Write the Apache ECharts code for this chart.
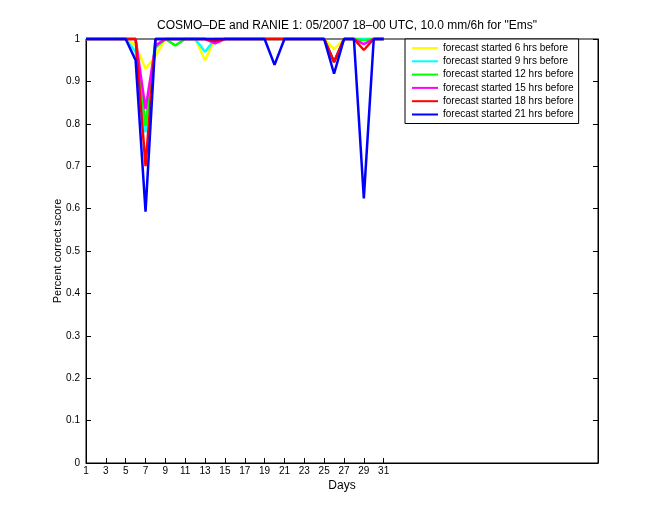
<!DOCTYPE html>
<html>
<head>
<meta charset="utf-8">
<script src="https://cdn.jsdelivr.net/npm/echarts@6/dist/echarts.min.js"></script>
<style>html,body{margin:0;padding:0;background:#fff}#c{width:660px;height:520px}</style>
</head>
<body>
<div id="c"></div>
<script>
// Days 1..31
const days = [1,2,3,4,5,6,7,8,9,10,11,12,13,14,15,16,17,18,19,20,21,22,23,24,25,26,27,28,29,30,31];
const xTicks = [1,3,5,7,9,11,13,15,17,19,21,23,25,27,29,31];
const seriesNames = [
  'forecast started 6 hrs before',
  'forecast started 9 hrs before',
  'forecast started 12 hrs before',
  'forecast started 15 hrs before',
  'forecast started 18 hrs before',
  'forecast started 21 hrs before'
];
//            1 2 3 4 5  6     7     8     9  10    11 12 13    14    15 16 17 18 19 20    21 22 23 24 25 26    27 28 29    30 31
const h6  = [1,1,1,1,1,0.985,0.93, 0.96, 1, 1,    1, 1, 0.95, 1,    1, 1, 1, 1, 1, 1,    1, 1, 1, 1, 1, 0.976,1, 1, 1,    1, 1];
const h9  = [1,1,1,1,1,0.97, 0.78, 1,    1, 1,    1, 1, 0.97, 1,    1, 1, 1, 1, 1, 1,    1, 1, 1, 1, 1, 0.946,1, 1, 1,    1, 1];
const h12 = [1,1,1,1,1,1,    0.795,0.98, 1, 0.985,1, 1, 1,    1,    1, 1, 1, 1, 1, 1,    1, 1, 1, 1, 1, 0.946,1, 1, 0.997,1, 1];
const h15 = [1,1,1,1,1,1,    0.835,0.985,1, 1,    1, 1, 1,    0.99, 1, 1, 1, 1, 1, 1,    1, 1, 1, 1, 1, 0.946,1, 1, 0.988,1, 1];
const h18 = [1,1,1,1,1,1,    0.70, 1,    1, 1,    1, 1, 1,    0.995,1, 1, 1, 1, 1, 1,    1, 1, 1, 1, 1, 0.946,1, 1, 0.974,1, 1];
const h21 = [1,1,1,1,1,0.95, 0.593,1,    1, 1,    1, 1, 1,    1,    1, 1, 1, 1, 1, 0.939,1, 1, 1, 1, 1, 0.918,1, 1, 0.624,1, 1];
const allValues = [h6, h9, h12, h15, h18, h21];
const colors = ['#ffff00', '#00ffff', '#00ff00', '#ff00ff', '#ff0000', '#0000ff'];

const font = 'Liberation Sans, Arial, Helvetica, sans-serif';
const chart = echarts.init(document.getElementById('c'), null, {renderer: 'canvas'});
const series = allValues.map((vals, i) => ({
  name: seriesNames[i],
  type: 'line',
  data: days.map((d, k) => [d, vals[k]]),
  showSymbol: false,
  symbol: 'none',
  clip: false,
  lineStyle: {color: colors[i], width: 2.5},
  itemStyle: {color: colors[i]}
}));

chart.setOption({
  animation: false,
  backgroundColor: '#fff',
  title: {
    text: 'COSMO\u2013DE and RANIE 1: 05/2007 18\u201300 UTC, 10.0 mm/6h for "Ems"',
    left: 342, textAlign: 'center', top: 15,
    textStyle: {fontFamily: font, fontSize: 12, fontWeight: 'normal', color: '#000'}
  },
  grid: {left: 86, top: 39, width: 512, height: 424, show: true, borderColor: '#000', borderWidth: 1, backgroundColor: '#fff'},
  legend: {
    left: 405, top: 39, orient: 'vertical',
    data: seriesNames,
    icon: 'rect', itemWidth: 26, itemHeight: 2, itemGap: 1.3,
    padding: [3, 5, 3, 7],
    borderColor: '#000', borderWidth: 1, backgroundColor: '#fff',
    textStyle: {fontFamily: font, fontSize: 10, color: '#000', lineHeight: 12}
  },
  xAxis: {
    type: 'value', min: 1, max: 52.6,
    name: 'Days', nameLocation: 'middle', nameGap: 17, nameMoveOverlap: false,
    nameTextStyle: {fontFamily: font, fontSize: 12, color: '#000'},
    axisLine: {show: true, lineStyle: {color: '#000', width: 1}},
    axisTick: {show: true, inside: true, length: 5, customValues: xTicks, lineStyle: {color: '#000'}},
    axisLabel: {customValues: xTicks, fontFamily: font, fontSize: 10, color: '#000', margin: 3},
    splitLine: {show: false}
  },
  yAxis: [{
    type: 'value', min: 0, max: 1, interval: 0.1, position: 'left',
    name: 'Percent correct score', nameLocation: 'middle', nameGap: 23, nameMoveOverlap: false,
    nameTextStyle: {fontFamily: font, fontSize: 11, color: '#000'},
    axisLine: {show: true, lineStyle: {color: '#000', width: 1}},
    axisTick: {show: true, inside: true, length: 5, lineStyle: {color: '#000'}},
    axisLabel: {fontFamily: font, fontSize: 10, color: '#000', margin: 6,
      formatter: v => (Math.round(v * 10) / 10).toString()},
    splitLine: {show: false}
  }, {
    type: 'value', min: 0, max: 1, interval: 0.1, position: 'right',
    axisLine: {show: true, lineStyle: {color: '#000', width: 1}},
    axisTick: {show: true, inside: true, length: 5, lineStyle: {color: '#000'}},
    axisLabel: {show: false},
    splitLine: {show: false}
  }],
  series: series
});
</script>
</body>
</html>
